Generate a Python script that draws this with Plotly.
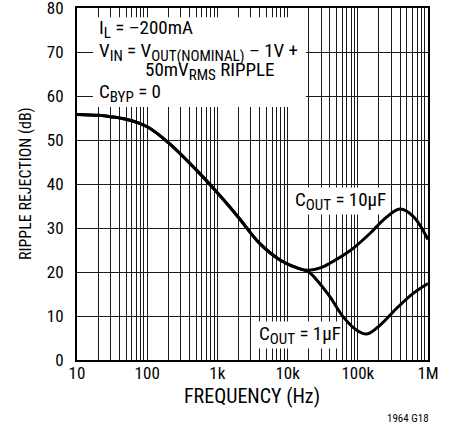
import plotly.graph_objects as go

# Data
freq_10uF = [10, 20, 30, 50, 100, 200, 500, 1000, 2000, 4000, 8000, 15000, 20000,
             30000, 40000, 80000, 150000, 230000, 400000, 620000, 1000000]
rej_10uF = [55.8, 55.6, 55.3, 54.7, 53.0, 49.4, 43.2, 38.0, 32.4, 26.5, 22.6, 20.7, 20.4,
            21.0, 22.0, 25.0, 28.8, 31.8, 34.3, 32.6, 27.4]

freq_1uF = [10, 20, 30, 50, 100, 200, 500, 1000, 2000, 4000, 8000, 15000, 20000,
            26000, 40000, 62000, 96000, 134000, 210000, 355000, 620000, 1000000]
rej_1uF = [55.8, 55.6, 55.3, 54.7, 53.0, 49.4, 43.2, 38.0, 32.4, 26.5, 22.6, 20.7, 20.0,
           18.2, 14.4, 9.8, 6.8, 5.9, 8.0, 11.7, 15.2, 17.4]

x_tickvals = [10, 100, 1000, 10000, 100000, 1000000]
x_ticktext = ["10", "100", "1k", "10k", "100k", "1M"]
x_minor = [m * d for d in [10, 100, 1000, 10000, 100000] for m in range(2, 10)]
y_tickvals = [0, 10, 20, 30, 40, 50, 60, 70, 80]

FONT = "Liberation Sans Narrow, Arial Narrow, Roboto Condensed, Liberation Sans, sans-serif"

fig = go.Figure()
for fx, fy in [(freq_10uF, rej_10uF), (freq_1uF, rej_1uF)]:
    fig.add_trace(go.Scatter(x=fx, y=fy, mode="lines",
                             line=dict(color="black", width=3, shape="spline", smoothing=1),
                             hoverinfo="skip"))

grid_col = "#1a1a1a"
fig.update_layout(
    width=455, height=429,
    margin=dict(l=77, r=27, t=8, b=69),
    paper_bgcolor="white", plot_bgcolor="white",
    showlegend=False,
    font=dict(family=FONT, color="black", size=16),
    xaxis=dict(type="log", range=[1, 6], tickvals=x_tickvals, ticktext=x_ticktext,
               showgrid=True, gridcolor=grid_col, gridwidth=1,
               minor=dict(tickvals=x_minor, showgrid=True, gridcolor=grid_col, gridwidth=1, ticks=""),
               showline=True, linecolor="black", linewidth=2, mirror=True,
               ticks="", ticklabeloverflow="allow", automargin=False,
               ticklabelstandoff=-3,
               tickfont=dict(size=17), zeroline=False),
    yaxis=dict(range=[0, 80], tickvals=y_tickvals,
               showgrid=True, gridcolor=grid_col, gridwidth=1,
               showline=True, linecolor="black", linewidth=2, mirror=True,
               ticks="outside", ticklen=8, tickcolor="rgba(0,0,0,0)",
               ticklabeloverflow="allow", automargin=False,
               tickfont=dict(size=17), zeroline=False),
)

# white box behind the condition text
fig.add_shape(type="rect", xref="paper", yref="paper", x0=0.0456, x1=0.652, y0=0.719, y1=0.974,
              fillcolor="white", line=dict(width=0), layer="above")

def sub(t):
    return "<sub><span style='font-size:15px'>" + t + "</span></sub>"

def ann(text, x, y, size=19, xanchor="left", bg=None, **kw):
    d = dict(text=text, x=x, y=y, xref="paper", yref="paper", showarrow=False,
             xanchor=xanchor, yanchor="middle", font=dict(size=size, family=FONT, color="black"))
    if bg:
        d["bgcolor"] = bg
        d["borderpad"] = 0
    d.update(kw)
    fig.add_annotation(**d)

ann("I" + sub("L") + " = –200mA", 0.057, 0.940)
ann("V" + sub("IN") + " = V" + sub("OUT(NOMINAL)") + " – 1V +", 0.057, 0.875)
ann("50mV" + sub("RMS") + " RIPPLE", 0.188, 0.820)
ann("C" + sub("BYP") + " = 0", 0.057, 0.758)
ann("C" + sub("OUT") + " = 10µF", 0.752, 0.452, xanchor="center", bg="white")
ann("C" + sub("OUT") + " = 1µF", 0.635, 0.071, xanchor="center", bg="white")

ann("RIPPLE REJECTION (dB)", -0.148, 0.5, size=16, xanchor="center", textangle=-90)
ann("FREQUENCY (Hz)", 0.499, -0.103, size=20, xanchor="center")
ann("1964 G18", 0.943, -0.166, size=11, xanchor="center")

fig.write_html("out.html", config={"displayModeBar": False},
               post_script="document.body.style.margin='0px';")
